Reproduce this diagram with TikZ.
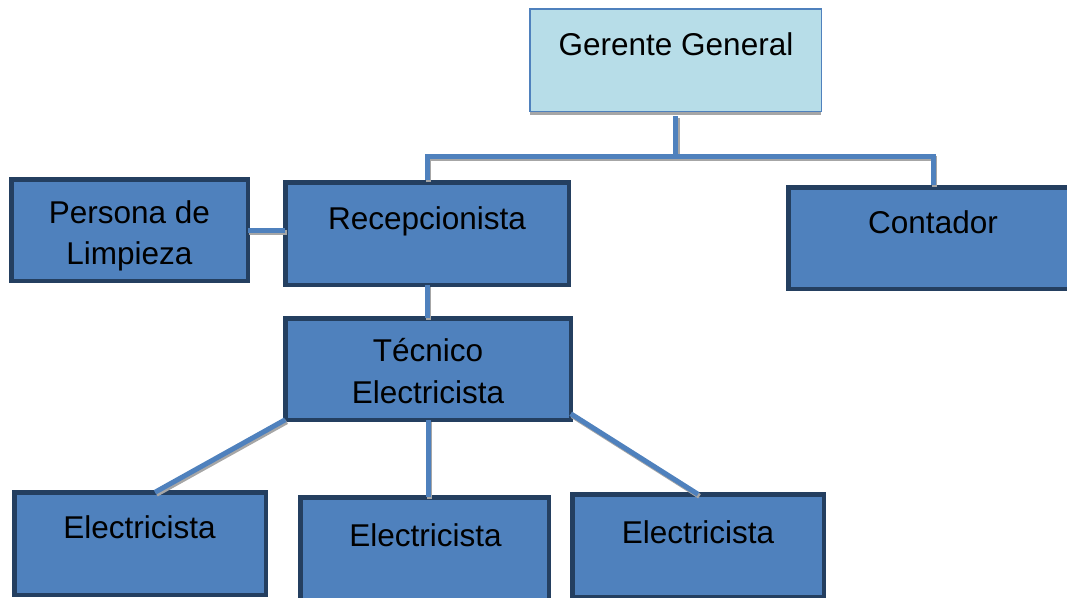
\documentclass[tikz,border=0pt]{standalone}
\usepackage{fontspec}
\setmainfont{Liberation Sans}
\usetikzlibrary{shadows}
\definecolor{paleblue}{HTML}{B7DDE8}
\definecolor{midblue}{HTML}{4F81BD}
\definecolor{navyline}{HTML}{243F60}
\definecolor{shadowgray}{HTML}{A6A6A6}
\begin{document}
\begin{tikzpicture}[x=1pt,y=-1pt,
  every node/.style={inner sep=0pt, outer sep=0pt},
  headbox/.style={draw=midblue, line width=1.5pt, fill=paleblue,
    drop shadow={shadow xshift=0pt, shadow yshift=-4pt, fill=shadowgray, opacity=1}},
  unitbox/.style={draw=navyline, line width=4.5pt, fill=midblue,
    drop shadow={shadow xshift=0pt, shadow yshift=-2pt, fill=shadowgray!60, opacity=1}},
  lbl/.style={font=\fontsize{31.5}{37.8}\selectfont, text=black, align=center},
  conn/.style={draw=midblue, line width=5pt,
    preaction={draw=shadowgray, line width=5pt,
      transform canvas={xshift=1.5pt, yshift=-2pt}}}]
\clip (0,0) rectangle (1067,597);

% boxes
\node[headbox, minimum width=291.5pt, minimum height=102.5pt] (ger) at (675.5,60) {};
\node[unitbox, minimum width=236.5pt, minimum height=101.5pt] (lim) at (129.5,230) {};
\node[unitbox, minimum width=283.5pt, minimum height=102.5pt] (rec) at (427,233.5) {};
\node[unitbox, minimum width=289.5pt, minimum height=101.5pt] (con) at (933,238) {};
\node[unitbox, minimum width=285.5pt, minimum height=101.5pt] (tec) at (428,369) {};
\node[unitbox, minimum width=251.5pt, minimum height=102.5pt] (ea) at (140,543.5) {};
\node[unitbox, minimum width=248.5pt, minimum height=102.5pt] (eb) at (424.5,548.5) {};
\node[unitbox, minimum width=251.5pt, minimum height=102.5pt] (ec) at (698,545.5) {};

% labels
\node[lbl, anchor=base] (gerT) at (676,55) {Gerente General};
\node[lbl] (limT) at (129.5,235.5) {Persona de\\[3pt]Limpieza};
\node[lbl, anchor=base] (recT) at (427,229) {Recepcionista};
\node[lbl, anchor=base] (conT) at (933,233) {Contador};
\node[lbl] (tecT) at (428,371) {Técnico\\[4.2pt]Electricista};
\node[lbl, anchor=base] (eaT) at (139.5,538) {Electricista};
\node[lbl, anchor=base] (ebT) at (425.5,546) {Electricista};
\node[lbl, anchor=base] (ecT) at (698,543) {Electricista};

% connectors
\coordinate (bus) at (678,156);
\draw[conn] ([yshift=-5pt]ger.south) -- (ger.south |- bus);
\draw[conn] ([yshift=2pt]rec.north) |- (con.north |- bus) -- ([yshift=2pt]con.north);
\draw[conn] (lim.east) -- (lim.east -| rec.west);
\draw[conn] (rec.south) -- (rec.south |- tec.north);
\draw[conn] (tec.south west) -- ([xshift=15pt]ea.north);
\draw[conn] (tec.south) -- (tec.south |- eb.north);
\draw[conn] ([yshift=6pt]tec.south east) -- (ec.north);
\end{tikzpicture}
\end{document}
